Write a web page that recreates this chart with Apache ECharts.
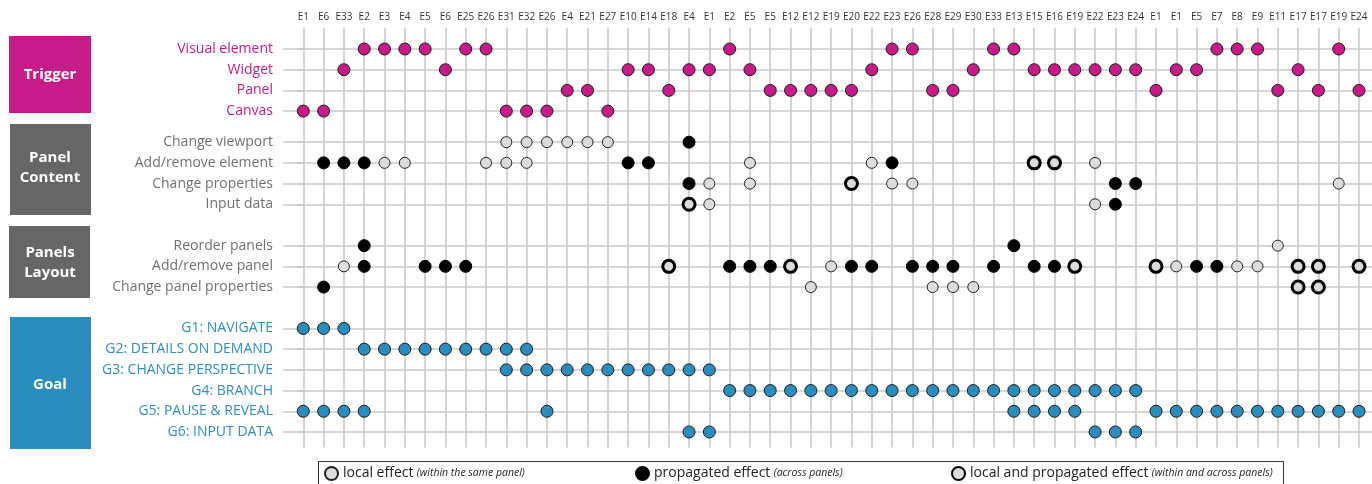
<!DOCTYPE html>
<html><head><meta charset="utf-8">
<script src="https://cdn.jsdelivr.net/npm/echarts@6/dist/echarts.min.js"></script>
<style>html,body{margin:0;padding:0;background:#fff}#c{width:1372px;height:484px}</style>
</head><body><div id="c"></div>
<script>
// ---- column (example) labels ----
const columns = ['E1','E6','E33','E2','E3','E4','E5','E6','E25','E26','E31','E32','E26','E4','E21','E27','E10','E14','E18','E4','E1','E2','E5','E5','E12','E12','E19','E20','E22','E23','E26','E28','E29','E30','E33','E13','E15','E16','E19','E22','E23','E24','E1','E1','E5','E7','E8','E9','E11','E17','E17','E19','E24'];

// ---- Trigger (column indices per row) ----
const triggerRows = ['Visual element','Widget','Panel','Canvas'];
const visualElement = [3,4,5,6,8,9,21,29,30,34,35,45,46,47,51];
const widget = [2,7,16,17,19,20,22,28,33,36,37,38,39,40,41,43,44,49];
const panel = [13,14,18,23,24,25,26,27,31,32,42,48,50,52];
const canvas = [0,1,10,11,12,15];

// ---- Panel content ----
const contentRows = ['Change viewport','Add/remove element','Change properties','Input data'];
const changeViewport   = {local:[10,11,12,13,14,15], propagated:[19], both:[]};
const addRemoveElement = {local:[4,5,9,10,11,22,28,39], propagated:[1,2,3,16,17,29], both:[36,37]};
const changeProperties = {local:[20,22,29,30,51], propagated:[19,40,41], both:[27]};
const inputData        = {local:[20,39], propagated:[40], both:[19]};

// ---- Panels layout ----
const layoutRows = ['Reorder panels','Add/remove panel','Change panel properties'];
const reorderPanels   = {local:[48], propagated:[3,35], both:[]};
const addRemovePanel  = {local:[2,26,43,46,47], propagated:[3,6,7,8,21,22,23,27,28,30,31,32,34,36,37,44,45], both:[18,24,38,42,49,50,52]};
const changePanelProps= {local:[25,31,32,33], propagated:[1], both:[49,50]};

// ---- Goals ----
const goalRows = ['G1: NAVIGATE','G2: DETAILS ON DEMAND','G3: CHANGE PERSPECTIVE','G4: BRANCH','G5: PAUSE & REVEAL','G6: INPUT DATA'];
const g1 = [0,1,2];
const g2 = [3,4,5,6,7,8,9,10,11];
const g3 = [10,11,12,13,14,15,16,17,18,19,20];
const g4 = [21,22,23,24,25,26,27,28,29,30,31,32,33,34,35,36,37,38,39,40,41];
const g5 = [0,1,2,3,12,35,36,37,38,42,43,44,45,46,47,48,49,50,51,52];
const g6 = [19,20,39,40,41];

// ---- legend texts ----
const legendMain = ['local effect','propagated effect','local and propagated effect'];
const legendNote = ['(within the same panel)','(across panels)','(within and across panels)'];

// ---- layout: row positions on the y scale ----
const groups = [triggerRows, contentRows, layoutRows, goalRows];
const groupGap = [0, 3, 4, 4];
const rowPos = [];
const labelMap = {};
const groupStyle = ['t','c','c','g'];
let p = -2;
groups.forEach((g, gi) => {
  const arr = [];
  g.forEach((name, ri) => {
    p += (ri === 0 ? (gi === 0 ? 2 : groupGap[gi]) : 2);
    arr.push(p);
    labelMap[p] = '{' + groupStyle[gi] + '|' + name + '}';
  });
  rowPos.push(arr);
});
const allPos = [].concat(...rowPos);

function pts(cols, y) { return cols.map(c => [c, y]); }
const triggerData = [visualElement, widget, panel, canvas].flatMap((cols, i) => pts(cols, rowPos[0][i]));
const goalData = [g1,g2,g3,g4,g5,g6].flatMap((cols, i) => pts(cols, rowPos[3][i]));
const effectRows = [
  [changeViewport, rowPos[1][0]], [addRemoveElement, rowPos[1][1]], [changeProperties, rowPos[1][2]], [inputData, rowPos[1][3]],
  [reorderPanels, rowPos[2][0]], [addRemovePanel, rowPos[2][1]], [changePanelProps, rowPos[2][2]]
];
const effData = k => effectRows.flatMap(([o, y]) => pts(o[k], y));

const FONT = 'Open Sans';
const MAG = '#C61B89', GRAY = '#666666', BLUE = '#2B8CBE';

const chart = echarts.init(document.getElementById('c'), null, {renderer: 'canvas'});

function legendFor(i, name, left) {
  return {
    data: [name], left: left, top: 466, padding: 0, itemWidth: 13, itemHeight: 13,
    icon: 'circle', selectedMode: false,
    formatter: () => '{a|' + legendMain[i] + '} {b|' + legendNote[i] + '}',
    textStyle: {rich: {
      a: {fontFamily: FONT, fontSize: 14, color: '#222'},
      b: {fontFamily: FONT, fontSize: 10.5, fontStyle: 'italic', color: '#222'}
    }}
  };
}

const boxText = {fontFamily: FONT, fontSize: 15, fontWeight: 'bold', fill: '#fff', textAlign: 'center', textVerticalAlign: 'middle', lineHeight: 20};

chart.setOption({
  animation: false,
  backgroundColor: '#fff',
  grid: {left: 283, right: 0, top: 28.3, bottom: 36.5, containLabel: false},
  xAxis: {
    type: 'value', position: 'top', min: -1, max: 52.64, interval: 1,
    axisLine: {show: false}, axisTick: {show: false},
    splitLine: {show: true, showMinLine: false, showMaxLine: false, lineStyle: {color: '#c4c4c4', width: 1.5}},
    axisLabel: {customValues: columns.map((_, i) => i), formatter: v => columns[v] || '', fontFamily: FONT, fontSize: 10, color: '#333', margin: 6}
  },
  yAxis: {
    type: 'value', inverse: true, min: -2, max: 38.5,
    axisLine: {show: false}, splitLine: {show: false},
    axisTick: {show: true, customValues: allPos, length: 6, inside: false, lineStyle: {color: '#c4c4c4', width: 1.5}},
    axisLabel: {
      customValues: allPos, margin: 10,
      formatter: v => labelMap[v] || '',
      rich: {
        t: {fontFamily: FONT, fontSize: 14, color: MAG},
        c: {fontFamily: FONT, fontSize: 14, color: '#707070'},
        g: {fontFamily: FONT, fontSize: 14, color: '#2E8DC2'}
      }
    }
  },
  legend: [legendFor(0, 'local', 324), legendFor(1, 'propagated', 635), legendFor(2, 'both', 951)],
  graphic: [
    {type: 'rect', shape: {x: 9, y: 36, width: 82, height: 77}, style: {fill: MAG}},
    {type: 'text', x: 50, y: 75, style: Object.assign({text: 'Trigger'}, boxText)},
    {type: 'rect', shape: {x: 10, y: 124, width: 81, height: 91}, style: {fill: GRAY}},
    {type: 'text', x: 50, y: 168, style: Object.assign({text: 'Panel\nContent'}, boxText)},
    {type: 'rect', shape: {x: 9, y: 226, width: 81, height: 72}, style: {fill: GRAY}},
    {type: 'text', x: 50, y: 263, style: Object.assign({text: 'Panels\nLayout'}, boxText)},
    {type: 'rect', shape: {x: 10, y: 317, width: 81, height: 132}, style: {fill: BLUE}},
    {type: 'text', x: 50, y: 385, style: Object.assign({text: 'Goal'}, boxText)},
    {type: 'rect', shape: {x: 318.5, y: 461.5, width: 965, height: 40}, style: {fill: 'none', stroke: '#333', lineWidth: 1}}
  ],
  series: [
    {type: 'line', data: [], z: 1, silent: true,
     markLine: {silent: true, symbol: ['none','none'], label: {show: false},
       lineStyle: {color: '#c8c8c8', width: 1.5, type: 'solid'},
       data: allPos.map(v => ({yAxis: v}))}},
    {name: 'trigger', type: 'scatter', z: 5, symbol: 'circle', symbolSize: 12, data: triggerData,
     itemStyle: {color: MAG, borderColor: '#1a1a1a', borderWidth: 1, opacity: 1}},
    {name: 'goal', type: 'scatter', z: 5, symbol: 'circle', symbolSize: 12, data: goalData,
     itemStyle: {color: BLUE, borderColor: '#1a1a1a', borderWidth: 1, opacity: 1}},
    {name: 'local', type: 'scatter', z: 5, symbol: 'circle', symbolSize: 11, data: effData('local'),
     itemStyle: {color: '#dcdcdc', borderColor: '#222', borderWidth: 1, opacity: 1}},
    {name: 'propagated', type: 'scatter', z: 5, symbol: 'circle', symbolSize: 12, data: effData('propagated'),
     itemStyle: {color: '#000', borderColor: '#000', borderWidth: 1, opacity: 1}},
    {name: 'both', type: 'scatter', z: 5, symbol: 'circle', symbolSize: 12, data: effData('both'),
     itemStyle: {color: '#dcdcdc', borderColor: '#000', borderWidth: 3, opacity: 1}}
  ]
});
</script>
</body></html>
